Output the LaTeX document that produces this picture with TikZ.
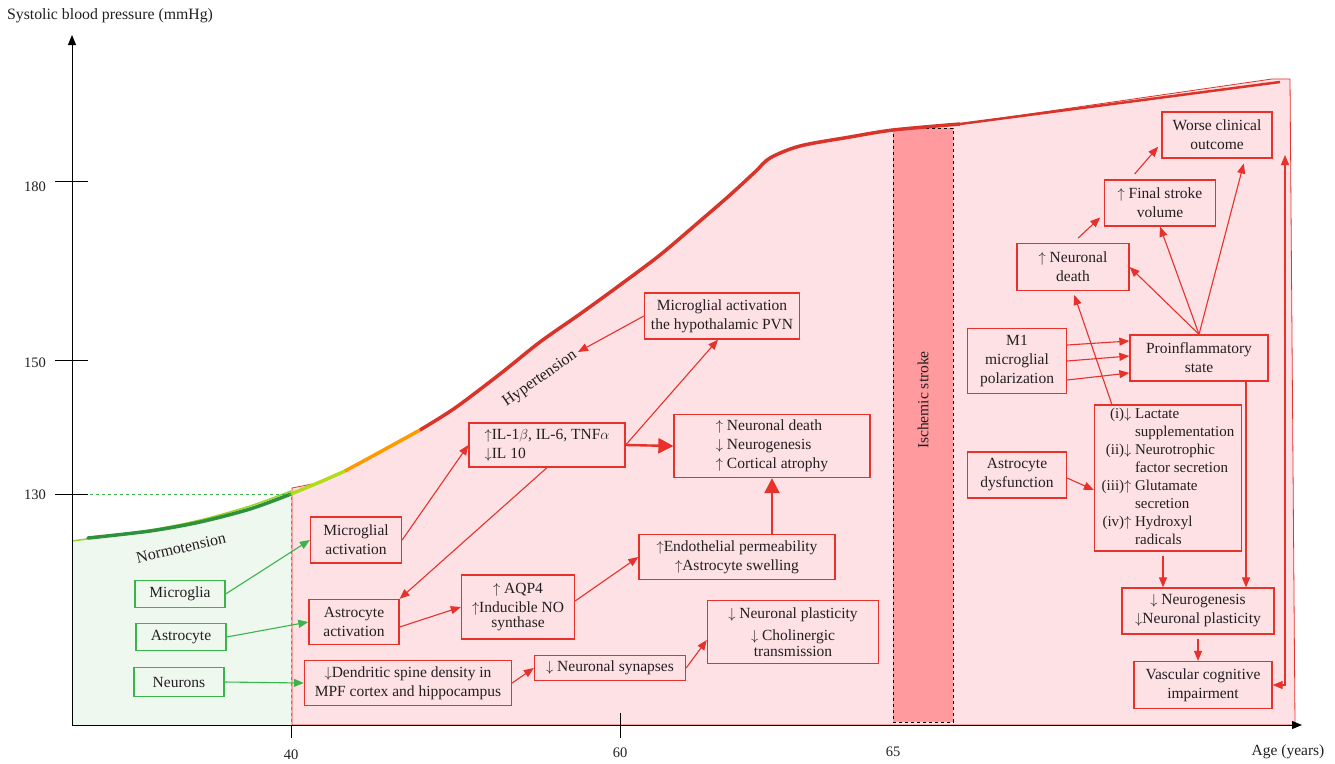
\documentclass[tikz,border=0pt]{standalone}
\usepackage{fontspec}
\setmainfont{Liberation Serif}
\usetikzlibrary{arrows.meta,positioning}
\definecolor{rline}{HTML}{E8312A}
\definecolor{rfill}{HTML}{FDE1E5}
\definecolor{gline}{HTML}{39B54A}
\definecolor{gfill}{HTML}{EEF8EF}
\definecolor{strokebar}{HTML}{FF9A9E}
\definecolor{curvered}{HTML}{D8342A}
\definecolor{ink}{HTML}{231F20}
\begin{document}
\begin{tikzpicture}[x=1pt, y=-1pt, >={Triangle[length=10pt,width=8pt]},
  font=\rmfamily\fontsize{15.5}{19}\selectfont, text=ink,
  rbox/.style={draw=rline, line width=1.3pt, fill=rfill, align=center, inner sep=2pt},
  gbox/.style={draw=gline, line width=1.3pt, fill=gfill, align=center, inner sep=2pt},
  rarr/.style={->, rline, line width=1.1pt},
  garr/.style={->, gline, line width=1.1pt},
  bigarr/.style={-{Triangle[length=15pt,width=15pt]}, rline, line width=2.4pt},
  axlab/.style={font=\rmfamily\fontsize{14.5}{17}\selectfont}]
\useasboundingbox (0,0) rectangle (1335,763);

% regions under the curve
\fill[gfill] (72,725) -- (72,541) -- plot[smooth] coordinates {(88,538) (150,531) (200,522) (250,509) (291,494)} -- (291,725) -- cycle;
\filldraw[fill=rfill, draw=rline, line width=0.8pt] (292,725) -- (292,488) -- (322,482) -- plot[smooth] coordinates {(340,474) (380,452) (420,430) (455,408) (500,374) (540,342) (580,314) (620,285) (660,255) (700,221) (730,195) (755,172) (770,158) (800,146) (850,137) (893,130) (960,124)} -- (1272,79) -- (1290,79) -- (1295,725) -- cycle;
\draw[dashed, line width=1pt, fill=strokebar] (893,128) rectangle (953,722);
\node[rotate=90] (stroke) at (923,400) {Ischemic stroke};

% blood pressure curve
\draw[yellow!60!green, line width=1.5pt] plot[smooth] coordinates {(72,541) (150,530) (200,520) (250,506) (291,491)};
\draw[gline!80!black, line width=3.5pt, line cap=round] plot[smooth] coordinates {(88,538) (150,531) (200,522) (250,509) (291,494)};
\draw[yellow!70!green, line width=3.5pt] plot[smooth] coordinates {(291,494) (320,482) (345,471)};
\draw[orange!80!yellow, line width=3.5pt] plot[smooth] coordinates {(345,471) (380,452) (420,430)};
\draw[curvered, line width=3.5pt] plot[smooth] coordinates {(420,430) (455,408) (500,374) (540,342) (580,314) (620,285) (660,255) (700,221) (730,195) (755,172) (770,158) (800,146) (850,137) (893,130) (960,124)};
\draw[curvered, line width=2.5pt] (960,124) -- (1280,82);

% axes
\draw[->, line width=1pt] (72,725) -- (72,35);
\draw[->, line width=1pt] (72,725) -- (1302,725);
\draw[gline, dashed, line width=1pt] (72,494) -- (291,494) -- (291,725);
\draw[line width=1pt] (55,181) -- (88,181);
\draw[line width=1pt] (55,360) -- (88,360);
\draw[line width=1pt] (55,494) -- (88,494);
\draw[line width=1pt] (291,725) -- (291,738);
\draw[line width=1pt] (620,713) -- (620,738);
\node[font=\rmfamily\fontsize{15.8}{19}\selectfont] (ylab) at (110,16) {Systolic blood pressure (mmHg)};
\node[font=\rmfamily\fontsize{15.5}{19}\selectfont] (xlab) at (1288,752) {Age (years)};
\node[axlab] (t180) at (35,187) {180};
\node[axlab] (t150) at (35,363) {150};
\node[axlab] (t130) at (35,495) {130};
\node[axlab] (t40) at (291,755) {40};
\node[axlab] (t60) at (620,753) {60};
\node[axlab] (t65) at (893,752) {65};
\node[rotate=13, font=\rmfamily\fontsize{16}{19}\selectfont] (normo) at (181,548) {Normotension};
\node[rotate=35, font=\rmfamily\fontsize{16}{19}\selectfont] (hyper) at (540,379) {Hypertension};
\coordinate (hyparr) at (578,352);

% normotension cells
\node[gbox, minimum width=90, minimum height=27] (mgl) at (180,594) {Microglia};
\node[gbox, minimum width=90, minimum height=27] (ast) at (181,637) {Astrocyte};
\node[gbox, minimum width=90, minimum height=29] (neu) at (179,682) {Neurons};

% hypertension
\node[rbox, minimum width=91, minimum height=46] (mact) at (356,540) {Microglial\\activation};
\node[rbox, minimum width=90, minimum height=45] (aact) at (354,622) {Astrocyte\\activation};
\node[rbox, minimum width=207, minimum height=45] (dend) at (408,683) {$\downarrow$Dendritic spine density in\\MPF cortex and hippocampus};
\node[rbox, minimum width=156, minimum height=44, align=left] (ilb) at (547,445) {$\uparrow$IL-1$\beta$, IL-6, TNF$\alpha$\\$\downarrow$IL 10};
\node[rbox, minimum width=155, minimum height=46] (pvn) at (722,316) {Microglial activation\\the hypothalamic PVN};
\node[rbox, minimum width=196, minimum height=63, align=left] (ndb) at (772,446) {$\uparrow$ Neuronal death\\$\downarrow$ Neurogenesis\\$\uparrow$ Cortical atrophy};
\node[rbox, minimum width=113, minimum height=64] (aqp) at (518,607) {$\uparrow$ AQP4\\$\uparrow$Inducible NO\\[-4pt]synthase};
\node[rbox, minimum width=196, minimum height=45] (endo) at (737,557) {$\uparrow$Endothelial permeability\\$\uparrow$Astrocyte swelling};
\node[rbox, minimum width=151, minimum height=25] (syn) at (610,668) {$\downarrow$ Neuronal synapses};
\node[rbox, minimum width=171, minimum height=63] (plas) at (793,632) {$\downarrow$ Neuronal plasticity\\[3pt]$\downarrow$ Cholinergic\\[-3pt]transmission};

% after stroke
\node[rbox, minimum width=99, minimum height=65] (mone) at (1017,361) {M1\\microglial\\polarization};
\node[rbox, minimum width=138, minimum height=46] (pro) at (1199,358) {Proinflammatory\\state};
\node[rbox, minimum width=112, minimum height=47] (nd2) at (1073,267) {$\uparrow$ Neuronal\\death};
\node[rbox, minimum width=111, minimum height=46] (fsv) at (1160,203) {$\uparrow$ Final stroke\\volume};
\node[rbox, minimum width=110, minimum height=46] (wco) at (1217,135) {Worse clinical\\outcome};
\node[rbox, minimum width=99, minimum height=46] (adys) at (1017,475) {Astrocyte\\dysfunction};
\node[rbox, minimum width=147, minimum height=146, inner sep=0pt, font=\rmfamily\fontsize{15}{18}\selectfont] (lst) at (1168,478) {\begin{tabular}{@{}r@{\ }l@{}}
(i)$\downarrow$ & Lactate\\ & supplementation\\
(ii)$\downarrow$ & Neurotrophic\\ & factor secretion\\
(iii)$\uparrow$ & Glutamate\\ & secretion\\
(iv)$\uparrow$ & Hydroxyl\\ & radicals
\end{tabular}};
\node[rbox, minimum width=152, minimum height=46] (ngen) at (1198,611) {$\downarrow$ Neurogenesis\\$\downarrow$Neuronal plasticity};
\node[rbox, minimum width=138, minimum height=47] (vci) at (1203,685) {Vascular cognitive\\impairment};
\coordinate (rtop) at (1285,155);

\draw[garr] (mgl.east) -- (mact.west);
\draw[garr] (ast.east) -- (aact.west);
\draw[garr] (neu.east) -- (dend.west);

\draw[rarr] (mact.east) -- (ilb.west);
\draw[rarr] (ilb.south) -- (aact.north east);
\draw[rarr] (ilb.east) -- ([xshift=-4pt]pvn.south);
\draw[bigarr] (ilb.east) -- (ndb.west);
\draw[rarr] (pvn.west) -- (hyparr);
\draw[rarr] ([yshift=-5pt]aact.east) -- (aqp.west);
\draw[rarr] ([yshift=6pt]aqp.east) -- (endo.west);
\draw[bigarr] (ndb.south |- endo.north) -- (ndb.south);
\draw[rarr] (dend.east) -- (syn.west);
\draw[rarr] (syn.east) -- ([yshift=-8pt]plas.west);

\foreach \a/\b in {16/17, 0/2, -19/-15}
  \draw[rarr] ([yshift=\a pt]mone.east) -- ([yshift=\b pt]pro.west);
\draw[rarr] (pro.north) -- (nd2.east);
\draw[rarr] (pro.north) -- (fsv.south);
\draw[rarr, shorten >=5pt] (pro.north) -- ([xshift=28pt]wco.south);
\draw[rarr, shorten >=4pt] ([xshift=18pt]lst.north west) -- (nd2.south);
\draw[rarr, shorten <=7pt, shorten >=5pt] (nd2.north) -- ([yshift=-11pt]fsv.west);
\draw[rarr, shorten <=7pt, shorten >=5pt] ([xshift=-30pt]fsv.north) -- ([yshift=-8pt]wco.west);
\draw[rarr] ([yshift=-3pt]adys.east) -- ([yshift=-12pt]lst.west);
\draw[rarr, shorten <=4pt] ([xshift=-5pt]lst.south) -- ([xshift=-5pt]lst.south |- ngen.north);
\draw[rarr] ([xshift=47pt]pro.south) -- ([xshift=47pt]pro.south |- ngen.north);
\draw[rarr, shorten <=4pt] (ngen.south) -- (ngen.south |- vci.north);
\draw[rarr, <->] (rtop) -- (rtop |- vci.east) -- (vci.east);
\end{tikzpicture}
\end{document}
